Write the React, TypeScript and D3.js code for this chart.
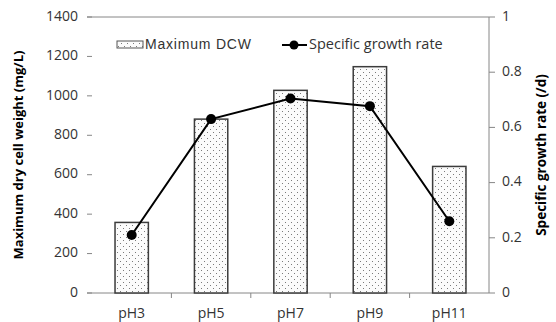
import React from "react";
import * as d3 from "d3";

const CATEGORIES = ["pH3", "pH5", "pH7", "pH9", "pH11"];
const MAX_DCW = [358, 882, 1028, 1148, 642];
const GROWTH_RATE = [0.21, 0.63, 0.705, 0.677, 0.26];
const LEFT_TICKS = [0, 200, 400, 600, 800, 1000, 1200, 1400];
const RIGHT_TICKS = [0, 0.2, 0.4, 0.6, 0.8, 1];

const WIDTH = 556;
const HEIGHT = 322;
const M = { top: 17, right: 67, bottom: 29, left: 92 };
const FONT = "'Open Sans', sans-serif";
const AXIS_COLOR = "#868686";
const TEXT_COLOR = "#333";

export default function App() {
  const innerW = WIDTH - M.left - M.right;
  const innerH = HEIGHT - M.top - M.bottom;

  const x = d3.scaleBand().domain(CATEGORIES).range([0, innerW]).paddingInner(0.58).paddingOuter(0.29);
  const band = d3.scaleBand().domain(CATEGORIES).range([0, innerW]);
  const yLeft = d3.scaleLinear().domain([0, 1400]).range([innerH, 0]);
  const yRight = d3.scaleLinear().domain([0, 1]).range([innerH, 0]);

  const line = d3
    .line<number>()
    .x((_, i) => band(CATEGORIES[i])! + band.bandwidth() / 2)
    .y((d) => yRight(d));

  return (
    <svg
      width={WIDTH}
      height={HEIGHT}
      style={{ position: "absolute", left: 0, top: 0, background: "#fff" }}
      fontFamily={FONT}
    >
      <defs>
        <pattern id="dots" width={6} height={6} patternUnits="userSpaceOnUse">
          <rect width={6} height={6} fill="#fbfbfb" />
          <rect x={1} y={1} width={1} height={1} fill="#7a7a7a" />
          <rect x={4} y={4} width={1} height={1} fill="#7a7a7a" />
        </pattern>
      </defs>

      {/* axis titles */}
      <text
        transform={`translate(20,${M.top + innerH / 2}) rotate(-90)`}
        textAnchor="middle"
        dominantBaseline="middle"
        fontSize={13}
        fontWeight="bold"
        fill="#000"
      >
        Maximum dry cell weight (mg/L)
      </text>
      <text
        transform={`translate(542,${M.top + innerH / 2}) rotate(-90)`}
        textAnchor="middle"
        dominantBaseline="middle"
        fontSize={13.5}
        fontWeight="bold"
        fill="#000"
      >
        Specific growth rate (/d)
      </text>

      <g transform={`translate(${M.left},${M.top})`}>
        {/* frame: top line, bottom axis, right axis */}
        <line x1={-5} x2={innerW} y1={0} y2={0} stroke={AXIS_COLOR} />
        <line x1={-5} x2={innerW} y1={innerH} y2={innerH} stroke={AXIS_COLOR} />
        <line x1={innerW} x2={innerW} y1={0} y2={innerH} stroke={AXIS_COLOR} />

        {/* left ticks */}
        {LEFT_TICKS.map((t) => (
          <g key={"l" + t} transform={`translate(0,${yLeft(t)})`}>
            <line x1={-5} x2={0} stroke={AXIS_COLOR} />
            <text x={-14} textAnchor="end" dominantBaseline="middle" fontSize={14} fill={TEXT_COLOR}>
              {t}
            </text>
          </g>
        ))}

        {/* right ticks */}
        {RIGHT_TICKS.map((t) => (
          <g key={"r" + t} transform={`translate(${innerW},${yRight(t)})`}>
            <line x1={0} x2={6} stroke={AXIS_COLOR} />
            <text x={13} dominantBaseline="middle" fontSize={14} fill={TEXT_COLOR}>
              {t}
            </text>
          </g>
        ))}

        {/* bottom ticks */}
        {CATEGORIES.map((c, i) => (
          <g key={"b" + c}>
            {i > 0 && (
              <line
                x1={band(c)!}
                x2={band(c)!}
                y1={innerH}
                y2={innerH + 5}
                stroke={AXIS_COLOR}
              />
            )}
            <text
              x={band(c)! + band.bandwidth() / 2}
              y={innerH + 21}
              textAnchor="middle"
              dominantBaseline="middle"
              fontSize={14}
              fill={TEXT_COLOR}
            >
              {c}
            </text>
          </g>
        ))}

        {/* bars */}
        {MAX_DCW.map((v, i) => (
          <rect
            key={"bar" + i}
            x={x(CATEGORIES[i])}
            y={yLeft(v)}
            width={x.bandwidth()}
            height={innerH - yLeft(v)}
            fill="url(#dots)"
            stroke="#3c3c3c"
            strokeWidth={1.5}
          />
        ))}

        {/* growth rate line */}
        <path d={line(GROWTH_RATE) || ""} fill="none" stroke="#000" strokeWidth={2} />
        {GROWTH_RATE.map((v, i) => (
          <circle
            key={"pt" + i}
            cx={band(CATEGORIES[i])! + band.bandwidth() / 2}
            cy={yRight(v)}
            r={5}
            fill="#000"
          />
        ))}
      </g>

      {/* legend */}
      <g fontSize={14}>
        <rect x={117} y={41} width={26} height={7} fill="url(#dots)" stroke="#555" strokeWidth={1} />
        <text x={145} y={45} dominantBaseline="middle" fill={TEXT_COLOR} fontFamily="'Liberation Sans', Arial, sans-serif" letterSpacing={0.8}>
          Maximum DCW
        </text>
        <line x1={282} x2={307} y1={45} y2={45} stroke="#000" strokeWidth={2} />
        <circle cx={294} cy={45} r={4.5} fill="#000" />
        <text x={309} y={45} dominantBaseline="middle" fill={TEXT_COLOR} fontSize={14.5}>
          Specific growth rate
        </text>
      </g>
    </svg>
  );
}
